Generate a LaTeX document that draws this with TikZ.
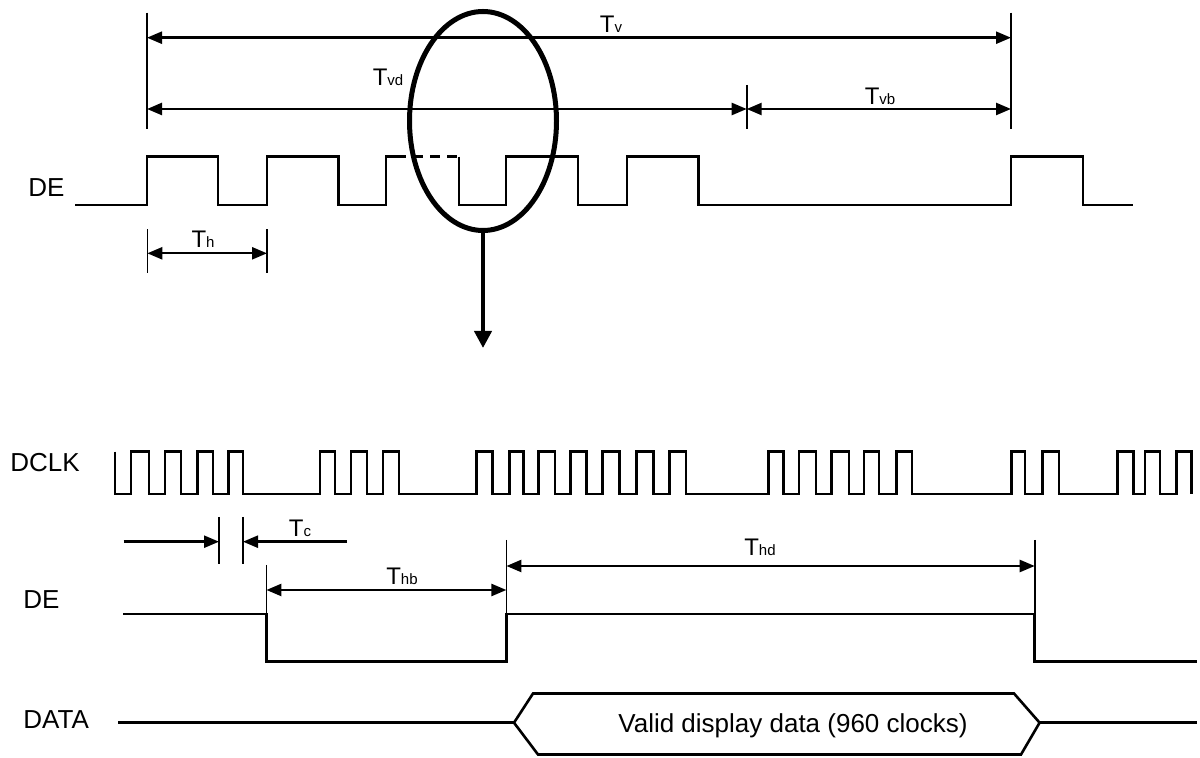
\documentclass[tikz,border=0pt]{standalone}
\usepackage{fontspec}
\setmainfont{Liberation Sans}
\usetikzlibrary{arrows.meta}
\newcommand{\Tsub}[1]{T{\fontsize{7.5}{9}\selectfont #1}}
\begin{document}
\begin{tikzpicture}[x=0.5pt,y=-0.5pt,
  wave/.style={line width=1.3pt, line join=miter},
  dimline/.style={line width=1.2pt},
  barline/.style={line width=0.8pt},
  tipR/.style={-{Triangle[length=7.5pt,width=6pt]}},
  tipL/.style={{Triangle[length=7.5pt,width=6pt]}-},
  tipLR/.style={{Triangle[length=7.5pt,width=6pt]}-{Triangle[length=7.5pt,width=6pt]}},
  lab/.style={font=\fontsize{13}{15}\selectfont, inner sep=0pt},
  tlab/.style={font=\fontsize{12}{14}\selectfont, inner sep=0pt}]
\useasboundingbox (0,0) rectangle (1200,758);

% ---------- top part ----------
\node[lab,anchor=base west] (deTop) at (28,196.7) {DE};

\coordinate (b1t) at (147,12.7);   \coordinate (b1b) at (147,129);
\coordinate (b2t) at (1011,12.7);  \coordinate (b2b) at (1011,129);
\coordinate (b3t) at (746.7,85);   \coordinate (b3b) at (746.7,129);
\draw[barline] (b1t) -- (b1b);
\draw[barline] (b2t) -- (b2b);
\draw[barline] (b3t) -- (b3b);

\coordinate (tvL) at (147,37.7);   \coordinate (tvR) at (1011,37.7);
\coordinate (tvdL) at (147,109);   \coordinate (tvdR) at (746.7,109);
\coordinate (tvbR) at (1011,109);
\draw[dimline,tipLR] (tvL) -- (tvR);
\draw[dimline,tipLR] (tvdL) -- (tvdR);
\draw[dimline,tipLR] (tvdR) -- (tvbR);
\node[tlab,anchor=base] (lTv) at (611,32.7) {\Tsub{v}};
\node[tlab,anchor=base] (lTvd) at (388,86) {\Tsub{vd}};
\node[tlab,anchor=base] (lTvb) at (880,105) {\Tsub{vb}};

% DE (frame level)
\draw[wave] (75,205) -- (147,205) -- (147,156.7) -- (218,156.7) -- (218,205)
  -- (267,205) -- (267,156.7) -- (338.6,156.7) -- (338.6,205) -- (386,205)
  -- (386,156.7) -- (396,156.7);
\draw[wave,dash pattern=on 5pt off 3.5pt] (396,156.7) -- (459,156.7);
\draw[wave] (459,156.7) -- (459,205) -- (506,205) -- (506,156.7) -- (578,156.7)
  -- (578,205) -- (627,205) -- (627,156.7) -- (698.5,156.7) -- (698.5,205)
  -- (1011,205) -- (1011,156.7) -- (1083,156.7) -- (1083,205) -- (1133,205);

% Th
\coordinate (thLt) at (147.3,229.3); \coordinate (thLb) at (147.3,273.3);
\coordinate (thRt) at (267,229.3);   \coordinate (thRb) at (267,273.3);
\draw[barline] (thLt) -- (thLb);
\draw[barline] (thRt) -- (thRb);
\coordinate (thA) at (147.3,253.3); \coordinate (thB) at (267,253.3);
\draw[dimline,tipLR] (thA) -- (thB);
\node[tlab,anchor=base] (lTh) at (203,247.3) {\Tsub{h}};

% zoom ellipse and arrow
\draw[line width=2.5pt] (483,121) ellipse [x radius=73.5, y radius=109.5];
\coordinate (ellB) at (483,230.5); \coordinate (arrE) at (483,348);
\draw[line width=2pt,-{Triangle[length=8.5pt,width=8.5pt]}] (ellB) -- (arrE);

% ---------- bottom part ----------
\node[lab,anchor=base west] (dclk) at (10,471.7) {DCLK};
\node[lab,anchor=base west] (deBot) at (23,608.3) {DE};
\node[lab,anchor=base west] (data) at (23,728.3) {DATA};

% DCLK
\draw[wave] (115,451.7) -- (115,494)
  \foreach \r/\f in {131/149,165/181,197.5/213,228.6/243,
                     320/335,351/367,383/399,
                     476.7/492.7,509.3/523.3,538.3/555,570.7/586.7,602.7/619.3,636.7/653.3,669.3/686,
                     768.4/783.7,799/816,831.5/848.8,864/879,896.6/911.9,
                     1011.7/1025,1042.7/1059,
                     1117.3/1133.3,1145/1160,1176.7/1191.7}
  { -- (\r,494) -- (\r,451.7) -- (\f,451.7) -- (\f,494) };

% Tc
\coordinate (tc1t) at (219,517); \coordinate (tc1b) at (219,564);
\coordinate (tc2t) at (243,517); \coordinate (tc2b) at (243,564);
\draw[barline] (tc1t) -- (tc1b);
\draw[barline] (tc2t) -- (tc2b);
\coordinate (tcS) at (123.6,541.7); \coordinate (tc1) at (219,541.7);
\coordinate (tcE) at (347,541.7);   \coordinate (tc2) at (243,541.7);
\draw[dimline,tipR] (tcS) -- (tc1);
\draw[dimline,tipR] (tcE) -- (tc2);
\node[tlab,anchor=base] (lTc) at (300,537) {\Tsub{c}};

% Thb / Thd
\coordinate (hbLt) at (266.4,565);  \coordinate (hbLb) at (266.4,614);
\coordinate (hbRt) at (506.4,540);  \coordinate (hbRb) at (506.4,614);
\coordinate (hdRt) at (1034.7,540); \coordinate (hdRb) at (1034.7,614);
\draw[barline] (hbLt) -- (hbLb);
\draw[barline] (hbRt) -- (hbRb);
\draw[barline] (hdRt) -- (hdRb);
\coordinate (hbA) at (266.4,590); \coordinate (hbB) at (506.4,590);
\coordinate (hdA) at (506.4,566); \coordinate (hdB) at (1034.7,566);
\draw[dimline,tipLR] (hbA) -- (hbB);
\draw[dimline,tipLR] (hdA) -- (hdB);
\node[tlab,anchor=base] (lThb) at (402,585) {\Tsub{hb}};
\node[tlab,anchor=base] (lThd) at (760,556) {\Tsub{hd}};

% DE (line level)
\draw[wave] (123,614) -- (266.4,614) -- (266.4,661.7) -- (506.4,661.7) -- (506.4,614)
  -- (1034.7,614) -- (1034.7,661.7) -- (1196.7,661.7);

% DATA
\draw[wave] (118,722.7) -- (514,722.7);
\draw[wave] (514,722.7) -- (533,693.5) -- (1014,693.5) -- (1039.6,722.7)
  -- (1021,754.5) -- (538,754.5) -- cycle;
\draw[wave] (1039.6,722.7) -- (1196.7,722.7);
\node[lab,anchor=base] (valid) at (793,733) {Valid display data (960 clocks)};
\end{tikzpicture}
\end{document}
